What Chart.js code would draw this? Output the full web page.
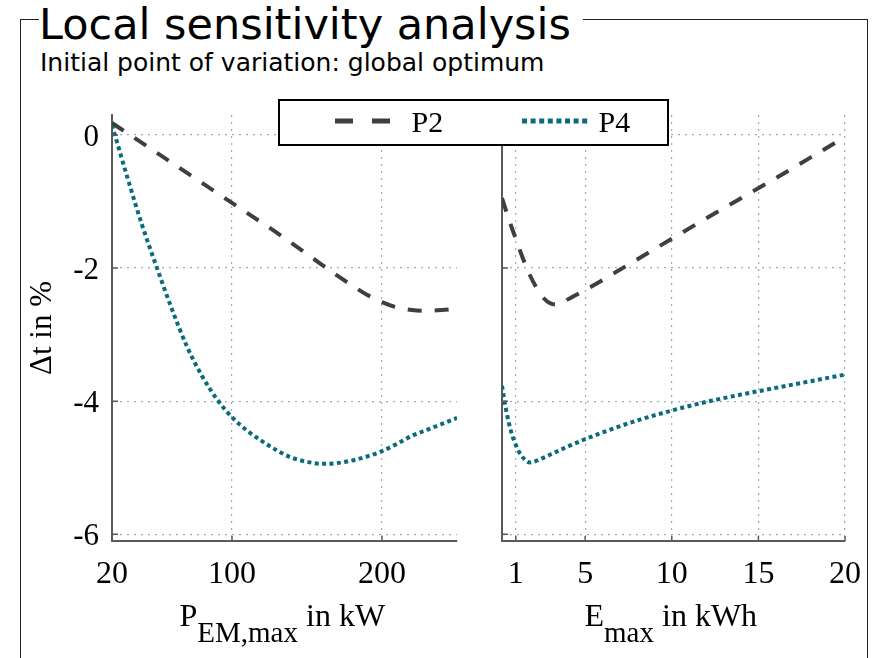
<!DOCTYPE html>
<html>
<head>
<meta charset="utf-8">
<script src="https://cdn.jsdelivr.net/npm/chart.js@4.4.1/dist/chart.umd.min.js"></script>
<style>
  html, body { margin: 0; padding: 0; background: #fff; overflow: hidden; }
  #wrap { position: relative; width: 875px; height: 658px; overflow: hidden; background: #fff; }
  #frame { position: absolute; left: 20px; top: 19px; width: 846px; height: 720px; border: 1px solid #222; }
  #title { position: absolute; left: 39px; top: 2.6px; width: 544px; height: 44px; background: #fff;
           font-family: 'DejaVu Sans', sans-serif; font-size: 43px; line-height: 43px; white-space: nowrap; color: #000; }
  #subtitle { position: absolute; left: 40px; top: 49.9px; font-family: 'DejaVu Sans', sans-serif;
              font-size: 25px; line-height: 25px; white-space: nowrap; color: #000; }
  .xt { position: absolute; top: 599.2px; font-family: 'Liberation Serif', serif;
        font-size: 32px; line-height: 32px; white-space: nowrap; color: #000; }
  .xt .sub { font-size: 29px; line-height: 0; vertical-align: -16px; }
  canvas { position: absolute; left: 0; top: 0; }
</style>
</head>
<body>
<div id="wrap">
  <div id="frame"></div>
  <div id="title">Local sensitivity analysis</div>
  <div id="subtitle">Initial point of variation: global optimum</div>
  <canvas id="cLeft" width="875" height="658"></canvas>
  <canvas id="cRight" width="875" height="658"></canvas>
  <div class="xt" style="left:179.5px">P<span class="sub">EM,max</span> in kW</div>
  <div class="xt" style="left:584.5px">E<span class="sub">max</span> in kWh</div>
</div>
<script>
// ---------------- data ----------------
const seriesLabels = ['P2', 'P4'];

// left panel: P_EM,max in kW
const pemX  = [20, 30, 40, 50, 60, 70, 80, 90, 100, 110, 120, 130, 140, 150, 160, 170, 180, 190, 200, 210, 220, 230, 240, 250];
const p2Pem = [0.18, 0.03, -0.12, -0.27, -0.42, -0.57, -0.72, -0.87, -1.02, -1.17, -1.32, -1.47, -1.63, -1.79, -1.95, -2.11, -2.26, -2.40, -2.51, -2.59, -2.63, -2.64, -2.63, -2.61];
const p4Pem = [0.15, -0.62, -1.35, -2.00, -2.62, -3.18, -3.62, -3.97, -4.24, -4.44, -4.60, -4.74, -4.85, -4.91, -4.94, -4.93, -4.89, -4.83, -4.75, -4.64, -4.52, -4.43, -4.34, -4.25];

// right panel: E_max in kWh
const emaxX  = [0.2, 0.4, 0.6, 0.8, 1, 1.3, 1.8, 2.5, 3, 3.5, 4, 5, 6, 8, 10, 12, 14, 16, 18, 20];
const p2Emax = [-0.95, -1.11, -1.27, -1.42, -1.56, -1.78, -2.10, -2.42, -2.53, -2.55, -2.47, -2.33, -2.18, -1.87, -1.56, -1.25, -0.95, -0.65, -0.34, -0.03];
const p4Emax = [-3.77, -4.08, -4.33, -4.52, -4.66, -4.81, -4.92, -4.86, -4.80, -4.74, -4.68, -4.57, -4.47, -4.29, -4.14, -4.01, -3.90, -3.80, -3.70, -3.60];

// tick labels
const yTicks    = [-6, -4, -2, 0];
const pemTicks  = [20, 100, 200];
const emaxTicks = [1, 5, 10, 15, 20];

// ---------------- styling ----------------
const SERIF = "Liberation Serif";
const C_P2 = '#3f3f3f';
const C_P4 = '#0a6b7a';
const AXIS = '#5a5a5a';
const GRID = '#a8a8a8';

function pts(xs, ys) { return xs.map((x, i) => ({ x: x, y: ys[i] })); }

function makeDatasets(xs, y2, y4) {
  return [
    { label: seriesLabels[0], data: pts(xs, y2), borderColor: C_P2, borderWidth: 4, borderDash: [14, 13],
      pointRadius: 0, cubicInterpolationMode: 'monotone', fill: false, legendDash: [18, 19], legendWidth: 5 },
    { label: seriesLabels[1], data: pts(xs, y4), borderColor: C_P4, borderWidth: 4, borderDash: [4, 3.4],
      pointRadius: 0, cubicInterpolationMode: 'monotone', fill: false, legendDash: [5, 3.6], legendWidth: 5 }
  ];
}

function setTicks(values) {
  return function (scale) { scale.ticks = values.map(v => ({ value: v })); };
}

const innerTicks = {
  id: 'innerTicks',
  afterDatasetsDraw(chart) {
    const { ctx, chartArea: a, scales } = chart;
    ctx.save();
    ctx.strokeStyle = AXIS;
    ctx.lineWidth = 1.5;
    ctx.beginPath();
    scales.x.ticks.forEach(t => {
      const px = scales.x.getPixelForValue(t.value);
      ctx.moveTo(px, a.bottom); ctx.lineTo(px, a.bottom - 5);
    });
    scales.y.ticks.forEach(t => {
      const py = scales.y.getPixelForValue(t.value);
      ctx.moveTo(a.left, py); ctx.lineTo(a.left + 6, py);
    });
    ctx.stroke();
    ctx.restore();
  }
};

const boxLegend = {
  id: 'boxLegend',
  afterDraw(chart) {
    const ctx = chart.ctx;
    const L = 279, T = 100, W = 389, H = 45, midY = 121;
    const sampleStart = [335, 522], sampleEnd = [390, 590], textX = [411.5, 598.5];
    ctx.save();
    ctx.fillStyle = '#fff';
    ctx.fillRect(L, T, W, H);
    ctx.lineWidth = 2;
    ctx.strokeStyle = '#000';
    ctx.strokeRect(L, T, W, H);
    chart.data.datasets.forEach((ds, i) => {
      ctx.setLineDash(ds.legendDash);
      ctx.strokeStyle = ds.borderColor;
      ctx.lineWidth = ds.legendWidth;
      ctx.beginPath();
      ctx.moveTo(sampleStart[i], midY);
      ctx.lineTo(sampleEnd[i], midY);
      ctx.stroke();
      ctx.setLineDash([]);
      ctx.fillStyle = '#000';
      ctx.font = "30px 'Liberation Serif'";
      ctx.textBaseline = 'alphabetic';
      ctx.textAlign = 'left';
      ctx.fillText(ds.label, textX[i], 132);
    });
    ctx.restore();
  }
};

function gridOpts() { return { color: GRID, lineWidth: 1.2, drawTicks: false }; }
function borderOpts() { return { display: true, color: AXIS, width: 2, dash: [2, 5] }; }

const baseOptions = {
  responsive: false,
  animation: false,
  events: [],
  plugins: { legend: { display: false }, tooltip: { enabled: false }, title: { display: false } }
};

// ---------------- left chart ----------------
new Chart(document.getElementById('cLeft'), {
  type: 'line',
  data: { datasets: makeDatasets(pemX, p2Pem, p4Pem) },
  options: Object.assign({}, baseOptions, {
    layout: { padding: { left: 24, right: 418, top: 115, bottom: 57 } },
    scales: {
      x: {
        type: 'linear', min: 20, max: 250,
        afterBuildTicks: setTicks(pemTicks),
        afterFit: s => { s.height = 60; },
        ticks: { font: { family: SERIF, size: 32 }, color: '#000', padding: 14, maxRotation: 0, autoSkip: false },
        grid: gridOpts(), border: borderOpts()
      },
      y: {
        type: 'linear', min: -6.1, max: 0.3,
        afterBuildTicks: setTicks(yTicks),
        afterFit: s => { s.width = 88; },
        ticks: { font: { family: SERIF, size: 31 }, color: '#000', padding: 13, labelOffset: 3, autoSkip: false },
        title: { display: true, text: 'Δt in %', font: { family: SERIF, size: 31 }, color: '#000', padding: { top: 0, bottom: 0, y: 0 } },
        grid: gridOpts(), border: borderOpts()
      }
    }
  }),
  plugins: [innerTicks]
});

// ---------------- right chart ----------------
new Chart(document.getElementById('cRight'), {
  type: 'line',
  data: { datasets: makeDatasets(emaxX, p2Emax, p4Emax) },
  options: Object.assign({}, baseOptions, {
    layout: { padding: { left: 492, right: 29, top: 115, bottom: 57 } },
    scales: {
      x: {
        type: 'linear', min: 0.2, max: 20,
        afterBuildTicks: setTicks(emaxTicks),
        afterFit: s => { s.height = 60; },
        ticks: { font: { family: SERIF, size: 32 }, color: '#000', padding: 14, maxRotation: 0, autoSkip: false },
        grid: gridOpts(), border: borderOpts()
      },
      y: {
        type: 'linear', min: -6.1, max: 0.3,
        afterBuildTicks: setTicks(yTicks),
        afterFit: s => { s.width = 10; },
        ticks: { display: false },
        grid: gridOpts(), border: borderOpts()
      }
    }
  }),
  plugins: [innerTicks, boxLegend]
});
</script>
</body>
</html>
